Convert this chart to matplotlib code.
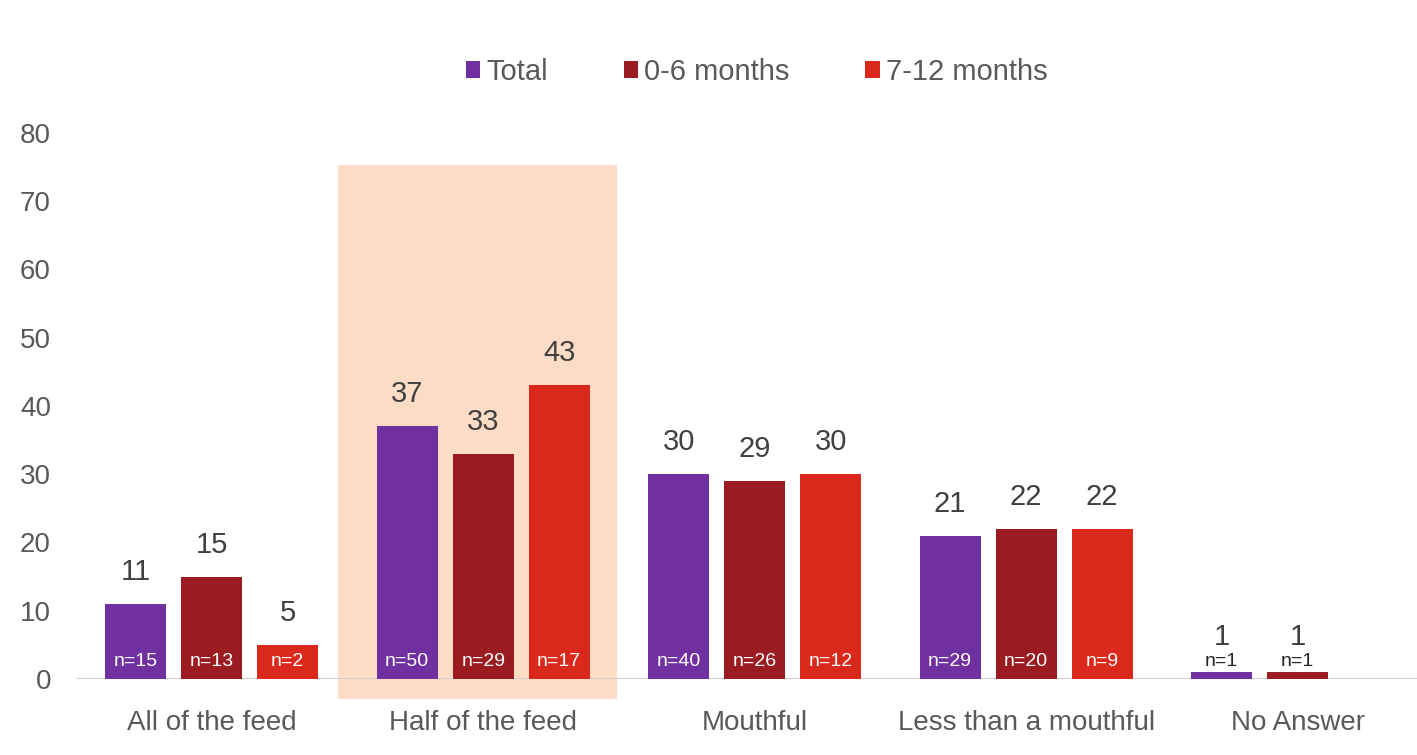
import matplotlib
matplotlib.use("Agg")
import matplotlib.pyplot as plt
from matplotlib.patches import Rectangle
import numpy as np

categories = ["All of the feed", "Half of the feed", "Mouthful", "Less than a mouthful", "No Answer"]
series_names = ["Total", "0-6 months", "7-12 months"]
total = [11, 37, 30, 21, 1]
m0_6 = [15, 33, 29, 22, 1]
m7_12 = [5, 43, 30, 22, None]
n_total = ["n=15", "n=50", "n=40", "n=29", "n=1"]
n_0_6 = ["n=13", "n=29", "n=26", "n=20", "n=1"]
n_7_12 = ["n=2", "n=17", "n=12", "n=9", None]
yticks = [0, 10, 20, 30, 40, 50, 60, 70, 80]

colors = ["#7030A0", "#9A1C21", "#DA291C"]
FONT = ["Liberation Sans", "DejaVu Sans"]
plt.rcParams["font.family"] = FONT
TXT = "#404040"

fig = plt.figure(figsize=(14.17, 7.55), dpi=100)
ax = fig.add_axes([0.0536, 0.1007, 0.958, 0.7232])
ax.set_xlim(-0.5, 4.5)
ax.set_ylim(0, 80)

# highlight rectangle behind Half of the feed
ax.add_patch(Rectangle((0.465, -3.0), 1.028, 78.3, facecolor="#FDDCC5",
                       edgecolor="none", zorder=0, clip_on=False))

x = np.arange(len(categories))
width = 0.225
step = 0.280
all_vals = [total, m0_6, m7_12]
all_n = [n_total, n_0_6, n_7_12]
for i, (vals, ns, col, name) in enumerate(zip(all_vals, all_n, colors, series_names)):
    xs = x + (i - 1) * step
    for j, (xv, v, n) in enumerate(zip(xs, vals, ns)):
        if v is None:
            continue
        ax.bar(xv, v, width=width, color=col, zorder=2,
               label=name if j == 0 else None)
        if v >= 3:
            ax.annotate(str(v), (xv, v), xytext=(0, 13), textcoords="offset points",
                        ha="center", va="bottom", fontsize=21, color=TXT)
            ax.text(xv, 2.5, n, ha="center", va="center", fontsize=14,
                    color="white", zorder=3)
        else:
            ax.text(xv, 2.6, n, ha="center", va="center", fontsize=14,
                    color="#262626", zorder=3)
            ax.annotate(str(v), (xv, v), xytext=(0, 15), textcoords="offset points",
                        ha="center", va="bottom", fontsize=21, color=TXT)

ax.axhline(0, color="#D0D0D0", lw=1.5, zorder=1)
for s in ax.spines.values():
    s.set_visible(False)
ax.set_yticks(yticks)
ax.set_yticklabels([str(t) for t in yticks])
ax.set_xticks(x)
ax.set_xticklabels(categories)
ax.tick_params(axis="both", length=0, labelsize=20, labelcolor="#595959")
ax.tick_params(axis="y", pad=18)
ax.tick_params(axis="x", pad=22)

leg = fig.legend(loc="center", bbox_to_anchor=(0.534, 0.905), ncol=3, frameon=False,
                 fontsize=21, handlelength=0.5, handleheight=0.5, handletextpad=0.2,
                 columnspacing=2.6)
for t in leg.get_texts():
    t.set_color("#595959")

fig.savefig("out.png", dpi=100)
